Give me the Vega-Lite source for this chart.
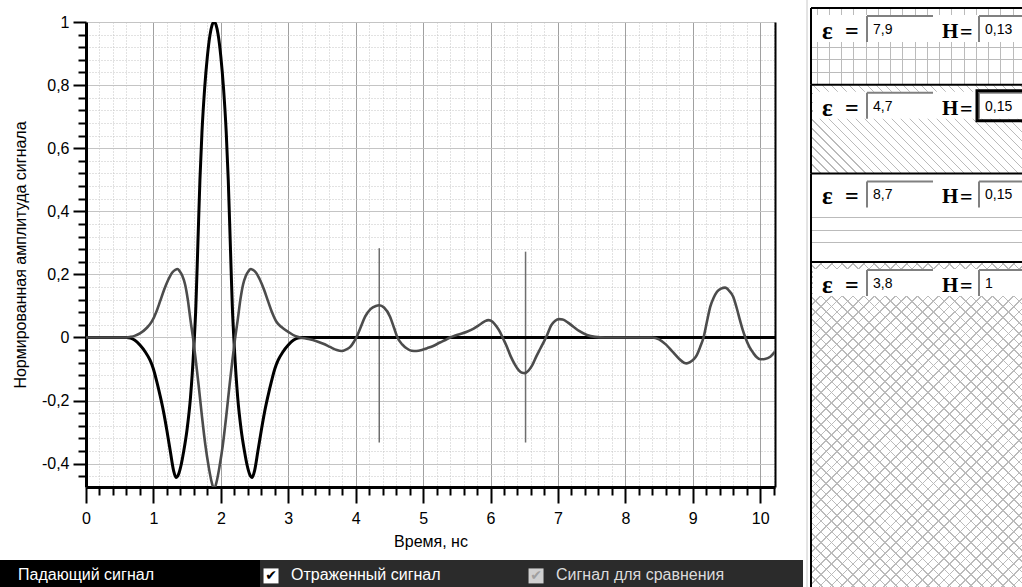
{
  "$schema": "https://vega.github.io/schema/vega-lite/v6.json",
  "width": 689,
  "height": 465,
  "padding": {"left": 86, "top": 22, "right": 247, "bottom": 100},
  "autosize": {"type": "none"},
  "background": "white",
  "config": {"view": {"stroke": null}, "font": "Liberation Sans"},
  "datasets": {
    "signals": [
      {"t":0,"v":0,"s":"inc"},{"t":0.6,"v":0,"s":"inc"},{"t":0.66,"v":-0.002,"s":"inc"},{"t":0.72,"v":-0.008,"s":"inc"},{"t":0.8,"v":-0.024,"s":"inc"},{"t":0.88,"v":-0.046,"s":"inc"},{"t":0.95,"v":-0.072,"s":"inc"},{"t":1.0,"v":-0.1,"s":"inc"},{"t":1.05,"v":-0.14,"s":"inc"},{"t":1.1,"v":-0.185,"s":"inc"},{"t":1.15,"v":-0.235,"s":"inc"},{"t":1.2,"v":-0.295,"s":"inc"},{"t":1.25,"v":-0.36,"s":"inc"},{"t":1.3,"v":-0.423,"s":"inc"},{"t":1.335,"v":-0.444,"s":"inc"},{"t":1.37,"v":-0.435,"s":"inc"},{"t":1.41,"v":-0.405,"s":"inc"},{"t":1.45,"v":-0.36,"s":"inc"},{"t":1.5,"v":-0.29,"s":"inc"},{"t":1.55,"v":-0.19,"s":"inc"},{"t":1.6,"v":-0.03,"s":"inc"},{"t":1.63,"v":0.1,"s":"inc"},{"t":1.66,"v":0.3,"s":"inc"},{"t":1.69,"v":0.5,"s":"inc"},{"t":1.72,"v":0.65,"s":"inc"},{"t":1.76,"v":0.79,"s":"inc"},{"t":1.8,"v":0.89,"s":"inc"},{"t":1.84,"v":0.96,"s":"inc"},{"t":1.87,"v":0.99,"s":"inc"},{"t":1.9,"v":1.0,"s":"inc"},{"t":1.93,"v":0.99,"s":"inc"},{"t":1.96,"v":0.96,"s":"inc"},{"t":2.0,"v":0.89,"s":"inc"},{"t":2.04,"v":0.79,"s":"inc"},{"t":2.08,"v":0.65,"s":"inc"},{"t":2.11,"v":0.5,"s":"inc"},{"t":2.14,"v":0.3,"s":"inc"},{"t":2.17,"v":0.1,"s":"inc"},{"t":2.2,"v":-0.03,"s":"inc"},{"t":2.25,"v":-0.19,"s":"inc"},{"t":2.3,"v":-0.29,"s":"inc"},{"t":2.35,"v":-0.36,"s":"inc"},{"t":2.39,"v":-0.405,"s":"inc"},{"t":2.43,"v":-0.435,"s":"inc"},{"t":2.465,"v":-0.444,"s":"inc"},{"t":2.5,"v":-0.423,"s":"inc"},{"t":2.55,"v":-0.36,"s":"inc"},{"t":2.6,"v":-0.295,"s":"inc"},{"t":2.65,"v":-0.235,"s":"inc"},{"t":2.7,"v":-0.185,"s":"inc"},{"t":2.75,"v":-0.14,"s":"inc"},{"t":2.8,"v":-0.1,"s":"inc"},{"t":2.85,"v":-0.072,"s":"inc"},{"t":2.92,"v":-0.046,"s":"inc"},{"t":3.0,"v":-0.024,"s":"inc"},{"t":3.08,"v":-0.008,"s":"inc"},{"t":3.14,"v":-0.002,"s":"inc"},{"t":3.2,"v":0,"s":"inc"},{"t":10.22,"v":0,"s":"inc"},
      {"t":0,"v":0,"s":"ref"},{"t":0.6,"v":0,"s":"ref"},{"t":0.66,"v":0.002,"s":"ref"},{"t":0.72,"v":0.005,"s":"ref"},{"t":0.8,"v":0.013,"s":"ref"},{"t":0.9,"v":0.03,"s":"ref"},{"t":0.975,"v":0.05,"s":"ref"},{"t":1.05,"v":0.085,"s":"ref"},{"t":1.1,"v":0.115,"s":"ref"},{"t":1.16,"v":0.152,"s":"ref"},{"t":1.22,"v":0.183,"s":"ref"},{"t":1.28,"v":0.206,"s":"ref"},{"t":1.33,"v":0.215,"s":"ref"},{"t":1.355,"v":0.217,"s":"ref"},{"t":1.39,"v":0.21,"s":"ref"},{"t":1.43,"v":0.195,"s":"ref"},{"t":1.47,"v":0.168,"s":"ref"},{"t":1.51,"v":0.12,"s":"ref"},{"t":1.55,"v":0.055,"s":"ref"},{"t":1.59,"v":-0.005,"s":"ref"},{"t":1.63,"v":-0.075,"s":"ref"},{"t":1.67,"v":-0.15,"s":"ref"},{"t":1.72,"v":-0.25,"s":"ref"},{"t":1.77,"v":-0.34,"s":"ref"},{"t":1.82,"v":-0.41,"s":"ref"},{"t":1.86,"v":-0.455,"s":"ref"},{"t":1.9,"v":-0.48,"s":"ref"},{"t":1.94,"v":-0.455,"s":"ref"},{"t":1.98,"v":-0.41,"s":"ref"},{"t":2.03,"v":-0.34,"s":"ref"},{"t":2.08,"v":-0.25,"s":"ref"},{"t":2.13,"v":-0.15,"s":"ref"},{"t":2.17,"v":-0.075,"s":"ref"},{"t":2.21,"v":-0.005,"s":"ref"},{"t":2.25,"v":0.055,"s":"ref"},{"t":2.29,"v":0.12,"s":"ref"},{"t":2.33,"v":0.168,"s":"ref"},{"t":2.37,"v":0.195,"s":"ref"},{"t":2.41,"v":0.21,"s":"ref"},{"t":2.445,"v":0.217,"s":"ref"},{"t":2.47,"v":0.215,"s":"ref"},{"t":2.52,"v":0.206,"s":"ref"},{"t":2.58,"v":0.183,"s":"ref"},{"t":2.64,"v":0.152,"s":"ref"},{"t":2.7,"v":0.115,"s":"ref"},{"t":2.75,"v":0.085,"s":"ref"},{"t":2.825,"v":0.05,"s":"ref"},{"t":2.9,"v":0.033,"s":"ref"},{"t":3.0,"v":0.018,"s":"ref"},{"t":3.1,"v":0.005,"s":"ref"},{"t":3.18,"v":0,"s":"ref"},{"t":3.3,"v":-0.005,"s":"ref"},{"t":3.42,"v":-0.012,"s":"ref"},{"t":3.52,"v":-0.02,"s":"ref"},{"t":3.62,"v":-0.03,"s":"ref"},{"t":3.72,"v":-0.04,"s":"ref"},{"t":3.79,"v":-0.043,"s":"ref"},{"t":3.86,"v":-0.038,"s":"ref"},{"t":3.92,"v":-0.03,"s":"ref"},{"t":3.97,"v":-0.015,"s":"ref"},{"t":4.01,"v":0,"s":"ref"},{"t":4.07,"v":0.03,"s":"ref"},{"t":4.14,"v":0.066,"s":"ref"},{"t":4.22,"v":0.09,"s":"ref"},{"t":4.3,"v":0.1,"s":"ref"},{"t":4.35,"v":0.102,"s":"ref"},{"t":4.42,"v":0.095,"s":"ref"},{"t":4.51,"v":0.066,"s":"ref"},{"t":4.57,"v":0.03,"s":"ref"},{"t":4.62,"v":0,"s":"ref"},{"t":4.69,"v":-0.022,"s":"ref"},{"t":4.76,"v":-0.035,"s":"ref"},{"t":4.83,"v":-0.042,"s":"ref"},{"t":4.9,"v":-0.043,"s":"ref"},{"t":4.98,"v":-0.04,"s":"ref"},{"t":5.06,"v":-0.034,"s":"ref"},{"t":5.15,"v":-0.027,"s":"ref"},{"t":5.25,"v":-0.016,"s":"ref"},{"t":5.33,"v":-0.008,"s":"ref"},{"t":5.4,"v":0,"s":"ref"},{"t":5.5,"v":0.008,"s":"ref"},{"t":5.65,"v":0.018,"s":"ref"},{"t":5.75,"v":0.028,"s":"ref"},{"t":5.85,"v":0.042,"s":"ref"},{"t":5.92,"v":0.052,"s":"ref"},{"t":5.97,"v":0.055,"s":"ref"},{"t":6.03,"v":0.05,"s":"ref"},{"t":6.09,"v":0.035,"s":"ref"},{"t":6.14,"v":0.018,"s":"ref"},{"t":6.19,"v":-0.005,"s":"ref"},{"t":6.24,"v":-0.028,"s":"ref"},{"t":6.3,"v":-0.06,"s":"ref"},{"t":6.36,"v":-0.085,"s":"ref"},{"t":6.42,"v":-0.104,"s":"ref"},{"t":6.47,"v":-0.112,"s":"ref"},{"t":6.51,"v":-0.113,"s":"ref"},{"t":6.56,"v":-0.106,"s":"ref"},{"t":6.62,"v":-0.088,"s":"ref"},{"t":6.68,"v":-0.06,"s":"ref"},{"t":6.74,"v":-0.035,"s":"ref"},{"t":6.8,"v":-0.01,"s":"ref"},{"t":6.84,"v":0.008,"s":"ref"},{"t":6.9,"v":0.038,"s":"ref"},{"t":6.96,"v":0.053,"s":"ref"},{"t":7.02,"v":0.058,"s":"ref"},{"t":7.07,"v":0.057,"s":"ref"},{"t":7.15,"v":0.047,"s":"ref"},{"t":7.23,"v":0.034,"s":"ref"},{"t":7.32,"v":0.02,"s":"ref"},{"t":7.43,"v":0.008,"s":"ref"},{"t":7.55,"v":0.002,"s":"ref"},{"t":7.7,"v":0,"s":"ref"},{"t":8.4,"v":0,"s":"ref"},{"t":8.5,"v":-0.006,"s":"ref"},{"t":8.6,"v":-0.022,"s":"ref"},{"t":8.7,"v":-0.045,"s":"ref"},{"t":8.8,"v":-0.068,"s":"ref"},{"t":8.87,"v":-0.08,"s":"ref"},{"t":8.91,"v":-0.082,"s":"ref"},{"t":8.96,"v":-0.078,"s":"ref"},{"t":9.02,"v":-0.068,"s":"ref"},{"t":9.06,"v":-0.056,"s":"ref"},{"t":9.11,"v":-0.03,"s":"ref"},{"t":9.16,"v":0,"s":"ref"},{"t":9.21,"v":0.05,"s":"ref"},{"t":9.26,"v":0.098,"s":"ref"},{"t":9.31,"v":0.126,"s":"ref"},{"t":9.36,"v":0.145,"s":"ref"},{"t":9.42,"v":0.155,"s":"ref"},{"t":9.48,"v":0.158,"s":"ref"},{"t":9.54,"v":0.148,"s":"ref"},{"t":9.6,"v":0.129,"s":"ref"},{"t":9.65,"v":0.095,"s":"ref"},{"t":9.7,"v":0.055,"s":"ref"},{"t":9.74,"v":0.025,"s":"ref"},{"t":9.78,"v":0,"s":"ref"},{"t":9.84,"v":-0.03,"s":"ref"},{"t":9.9,"v":-0.05,"s":"ref"},{"t":9.95,"v":-0.063,"s":"ref"},{"t":10.0,"v":-0.069,"s":"ref"},{"t":10.07,"v":-0.068,"s":"ref"},{"t":10.15,"v":-0.061,"s":"ref"},{"t":10.22,"v":-0.045,"s":"ref"}
    ],
    "markers": [
      {"t": 4.35, "top": 0.283, "bottom": -0.333},
      {"t": 6.52, "top": 0.272, "bottom": -0.333}
    ],
    "strata": [
      {"layer": 1, "eps": 7.9, "H": 0.13},
      {"layer": 2, "eps": 4.7, "H": 0.15},
      {"layer": 3, "eps": 8.7, "H": 0.15},
      {"layer": 4, "eps": 3.8, "H": 1}
    ],
    "legend": [
      {"idx": 0, "item": "Падающий сигнал", "box": "none"},
      {"idx": 1, "item": "Отраженный сигнал", "box": "checked"},
      {"idx": 2, "item": "Сигнал для сравнения", "box": "disabled"}
    ]
  },
  "layer": [
    {
      "layer": [
        {
          "data": {"name": "markers"},
          "mark": {"type": "rule", "color": "#6e6e6e", "strokeWidth": 1.5, "clip": true},
          "encoding": {
            "x": {"field": "t", "type": "quantitative", "scale": {"domain": [0, 10.22], "nice": false, "zero": false},
              "axis": {"orient": "bottom", "values": [0.2,0.4,0.6,0.8,1.2,1.4,1.6,1.8,2.2,2.4,2.6,2.8,3.2,3.4,3.6,3.8,4.2,4.4,4.6,4.8,5.2,5.4,5.6,5.8,6.2,6.4,6.6,6.8,7.2,7.4,7.6,7.8,8.2,8.4,8.6,8.8,9.2,9.4,9.6,9.8,10.2],
                "grid": true, "gridColor": "#c4c4c4", "gridDash": [1, 2], "gridWidth": 1, "ticks": true, "tickSize": 8, "tickWidth": 2, "tickColor": "black", "labels": false, "domain": false, "title": null}},
            "y": {"field": "top", "type": "quantitative", "scale": {"domain": [-0.474, 1], "nice": false, "zero": false},
              "axis": {"orient": "left", "values": [-0.44,-0.36,-0.32,-0.28,-0.24,-0.16,-0.12,-0.08,-0.04,0.04,0.08,0.12,0.16,0.24,0.28,0.32,0.36,0.44,0.48,0.52,0.56,0.64,0.68,0.72,0.76,0.84,0.88,0.92,0.96],
                "grid": true, "gridColor": "#c4c4c4", "gridDash": [1, 2], "gridWidth": 1, "ticks": true, "tickSize": 8, "tickWidth": 2, "tickColor": "black", "labels": false, "domain": false, "title": null}},
            "y2": {"field": "bottom"}
          }
        },
        {
          "data": {"name": "signals"},
          "transform": [{"filter": "datum.s == 'inc'"}],
          "mark": {"type": "line", "color": "black", "strokeWidth": 3, "interpolate": "monotone", "clip": true},
          "encoding": {
            "x": {"field": "t", "type": "quantitative", "scale": {"domain": [0, 10.22], "nice": false, "zero": false},
              "axis": {"orient": "bottom", "values": [0,1,2,3,4,5,6,7,8,9,10], "grid": true, "gridColor": "#a0a0a0", "gridWidth": 1,
                "tickSize": 16, "tickWidth": 2, "tickColor": "black", "domain": true, "domainColor": "black", "domainWidth": 3,
                "labelFont": "Liberation Sans", "labelFontSize": 16, "labelColor": "black", "labelPadding": 7, "labelFlush": false, "labelOverlap": false,
                "title": "Время, нс", "titleFont": "Liberation Sans", "titleFontSize": 16, "titleFontWeight": "normal", "titleColor": "black",
                "titleX": 344.5, "titleY": 54, "titleBaseline": "middle"}},
            "y": {"field": "v", "type": "quantitative", "scale": {"domain": [-0.474, 1], "nice": false, "zero": false},
              "axis": {"orient": "left", "values": [-0.4,-0.2,0,0.2,0.4,0.6,0.8,1], "labelExpr": "replace(toString(datum.value), '.', ',')",
                "grid": true, "gridColor": "#c4c4c4", "gridWidth": 1,
                "tickSize": 13, "tickWidth": 2, "tickColor": "black", "domain": true, "domainColor": "black", "domainWidth": 3,
                "labelFont": "Liberation Sans", "labelFontSize": 16, "labelColor": "black", "labelPadding": 4, "labelFlush": false, "labelOverlap": false,
                "title": "Нормированная амплитуда сигнала", "titleFont": "Liberation Sans", "titleFontSize": 16, "titleFontWeight": "normal", "titleColor": "black",
                "titleX": -66, "titleBaseline": "middle"}}
          }
        },
        {
          "data": {"name": "signals"},
          "transform": [{"filter": "datum.s == 'ref'"}],
          "mark": {"type": "line", "color": "#4c4c4c", "strokeWidth": 2.6, "interpolate": "monotone", "clip": true},
          "encoding": {
            "x": {"field": "t", "type": "quantitative", "scale": {"domain": [0, 10.22], "nice": false, "zero": false}, "axis": null},
            "y": {"field": "v", "type": "quantitative", "scale": {"domain": [-0.474, 1], "nice": false, "zero": false},
              "axis": {"orient": "right", "domain": true, "domainColor": "black", "domainWidth": 2, "ticks": false, "labels": false, "grid": false, "title": null}}
          }
        }
      ],
      "resolve": {"axis": {"x": "independent", "y": "independent"}}
    },
    {
      "data": {"name": "strata"},
      "transform": [
        {"window": [{"op": "sum", "field": "H", "as": "bottom"}], "sort": [{"field": "layer"}], "frame": [null, 0]},
        {"calculate": "datum.bottom - datum.H", "as": "top"},
        {"calculate": "replace(toString(datum.eps), '.', ',')", "as": "epsLabel"},
        {"calculate": "replace(toString(datum.H), '.', ',')", "as": "hLabel"}
      ],
      "encoding": {
        "x": {"datum": 0, "type": "quantitative", "scale": {"domain": [0, 1], "range": [725, 936], "nice": false, "zero": false}, "axis": null},
        "y": {"field": "top", "type": "quantitative", "scale": {"domain": [-0.01354, 0.98], "range": [-22, 565], "clamp": true, "nice": false, "zero": false}, "axis": null}
      },
      "layer": [
        {
          "transform": [{"filter": "datum.layer == 1"}],
          "mark": {"type": "rule", "color": "#c8c8c8", "strokeWidth": 1, "xOffset": -4},
          "encoding": {"y": {"datum": -0.05, "type": "quantitative"}, "y2": {"datum": 2}}
        },
        {
          "transform": [{"filter": "datum.layer == 1"}],
          "mark": {"type": "rect", "strokeWidth": 0, "fill": {"gradient": "linear", "x1": 0, "y1": 0, "x2": 1, "y2": 0, "stops": [
            {"offset":0.027,"color":"transparent"},{"offset":0.027,"color":"#bbb"},{"offset":0.032,"color":"#bbb"},{"offset":0.032,"color":"transparent"},
            {"offset":0.085,"color":"transparent"},{"offset":0.085,"color":"#bbb"},{"offset":0.09,"color":"#bbb"},{"offset":0.09,"color":"transparent"},
            {"offset":0.143,"color":"transparent"},{"offset":0.143,"color":"#bbb"},{"offset":0.148,"color":"#bbb"},{"offset":0.148,"color":"transparent"},
            {"offset":0.201,"color":"transparent"},{"offset":0.201,"color":"#bbb"},{"offset":0.206,"color":"#bbb"},{"offset":0.206,"color":"transparent"},
            {"offset":0.259,"color":"transparent"},{"offset":0.259,"color":"#bbb"},{"offset":0.264,"color":"#bbb"},{"offset":0.264,"color":"transparent"},
            {"offset":0.317,"color":"transparent"},{"offset":0.317,"color":"#bbb"},{"offset":0.322,"color":"#bbb"},{"offset":0.322,"color":"transparent"},
            {"offset":0.375,"color":"transparent"},{"offset":0.375,"color":"#bbb"},{"offset":0.38,"color":"#bbb"},{"offset":0.38,"color":"transparent"},
            {"offset":0.433,"color":"transparent"},{"offset":0.433,"color":"#bbb"},{"offset":0.438,"color":"#bbb"},{"offset":0.438,"color":"transparent"},
            {"offset":0.491,"color":"transparent"},{"offset":0.491,"color":"#bbb"},{"offset":0.496,"color":"#bbb"},{"offset":0.496,"color":"transparent"},
            {"offset":0.549,"color":"transparent"},{"offset":0.549,"color":"#bbb"},{"offset":0.554,"color":"#bbb"},{"offset":0.554,"color":"transparent"},
            {"offset":0.607,"color":"transparent"},{"offset":0.607,"color":"#bbb"},{"offset":0.612,"color":"#bbb"},{"offset":0.612,"color":"transparent"},
            {"offset":0.665,"color":"transparent"},{"offset":0.665,"color":"#bbb"},{"offset":0.67,"color":"#bbb"},{"offset":0.67,"color":"transparent"},
            {"offset":0.723,"color":"transparent"},{"offset":0.723,"color":"#bbb"},{"offset":0.728,"color":"#bbb"},{"offset":0.728,"color":"transparent"},
            {"offset":0.781,"color":"transparent"},{"offset":0.781,"color":"#bbb"},{"offset":0.786,"color":"#bbb"},{"offset":0.786,"color":"transparent"},
            {"offset":0.839,"color":"transparent"},{"offset":0.839,"color":"#bbb"},{"offset":0.844,"color":"#bbb"},{"offset":0.844,"color":"transparent"},
            {"offset":0.897,"color":"transparent"},{"offset":0.897,"color":"#bbb"},{"offset":0.902,"color":"#bbb"},{"offset":0.902,"color":"transparent"},
            {"offset":0.955,"color":"transparent"},{"offset":0.955,"color":"#bbb"},{"offset":0.96,"color":"#bbb"},{"offset":0.96,"color":"transparent"}
          ]}},
          "encoding": {"x2": {"datum": 1}, "y2": {"field": "bottom"}}
        },
        {
          "transform": [{"filter": "datum.layer == 1"}],
          "mark": {"type": "rect", "strokeWidth": 0, "fill": {"gradient": "linear", "x1": 0, "y1": 0, "x2": 0, "y2": 1, "stops": [
            {"offset":0.504,"color":"transparent"},{"offset":0.504,"color":"#bbb"},{"offset":0.517,"color":"#bbb"},{"offset":0.517,"color":"transparent"},
            {"offset":0.668,"color":"transparent"},{"offset":0.668,"color":"#bbb"},{"offset":0.681,"color":"#bbb"},{"offset":0.681,"color":"transparent"},
            {"offset":0.829,"color":"transparent"},{"offset":0.829,"color":"#bbb"},{"offset":0.842,"color":"#bbb"},{"offset":0.842,"color":"transparent"}
          ]}},
          "encoding": {"x2": {"datum": 1}, "y2": {"field": "bottom"}}
        },
        {
          "transform": [{"filter": "datum.layer == 2"}],
          "mark": {"type": "rect", "strokeWidth": 0, "fill": {"gradient": "linear", "x1": 0, "y1": 1, "x2": 1.2071, "y2": 0.4931, "stops": [
            {"offset":0,"color":"transparent"},{"offset":0,"color":"#bbb"},{"offset":0.005,"color":"#bbb"},{"offset":0.005,"color":"transparent"},
            {"offset":0.03,"color":"transparent"},{"offset":0.03,"color":"#bbb"},{"offset":0.035,"color":"#bbb"},{"offset":0.035,"color":"transparent"},
            {"offset":0.06,"color":"transparent"},{"offset":0.06,"color":"#bbb"},{"offset":0.065,"color":"#bbb"},{"offset":0.065,"color":"transparent"},
            {"offset":0.09,"color":"transparent"},{"offset":0.09,"color":"#bbb"},{"offset":0.095,"color":"#bbb"},{"offset":0.095,"color":"transparent"},
            {"offset":0.12,"color":"transparent"},{"offset":0.12,"color":"#bbb"},{"offset":0.125,"color":"#bbb"},{"offset":0.125,"color":"transparent"},
            {"offset":0.15,"color":"transparent"},{"offset":0.15,"color":"#bbb"},{"offset":0.155,"color":"#bbb"},{"offset":0.155,"color":"transparent"},
            {"offset":0.18,"color":"transparent"},{"offset":0.18,"color":"#bbb"},{"offset":0.185,"color":"#bbb"},{"offset":0.185,"color":"transparent"},
            {"offset":0.21,"color":"transparent"},{"offset":0.21,"color":"#bbb"},{"offset":0.215,"color":"#bbb"},{"offset":0.215,"color":"transparent"},
            {"offset":0.24,"color":"transparent"},{"offset":0.24,"color":"#bbb"},{"offset":0.245,"color":"#bbb"},{"offset":0.245,"color":"transparent"},
            {"offset":0.27,"color":"transparent"},{"offset":0.27,"color":"#bbb"},{"offset":0.275,"color":"#bbb"},{"offset":0.275,"color":"transparent"},
            {"offset":0.3,"color":"transparent"},{"offset":0.3,"color":"#bbb"},{"offset":0.305,"color":"#bbb"},{"offset":0.305,"color":"transparent"},
            {"offset":0.33,"color":"transparent"},{"offset":0.33,"color":"#bbb"},{"offset":0.335,"color":"#bbb"},{"offset":0.335,"color":"transparent"},
            {"offset":0.36,"color":"transparent"},{"offset":0.36,"color":"#bbb"},{"offset":0.365,"color":"#bbb"},{"offset":0.365,"color":"transparent"},
            {"offset":0.39,"color":"transparent"},{"offset":0.39,"color":"#bbb"},{"offset":0.395,"color":"#bbb"},{"offset":0.395,"color":"transparent"},
            {"offset":0.42,"color":"transparent"},{"offset":0.42,"color":"#bbb"},{"offset":0.425,"color":"#bbb"},{"offset":0.425,"color":"transparent"},
            {"offset":0.45,"color":"transparent"},{"offset":0.45,"color":"#bbb"},{"offset":0.455,"color":"#bbb"},{"offset":0.455,"color":"transparent"},
            {"offset":0.48,"color":"transparent"},{"offset":0.48,"color":"#bbb"},{"offset":0.485,"color":"#bbb"},{"offset":0.485,"color":"transparent"},
            {"offset":0.51,"color":"transparent"},{"offset":0.51,"color":"#bbb"},{"offset":0.515,"color":"#bbb"},{"offset":0.515,"color":"transparent"},
            {"offset":0.54,"color":"transparent"},{"offset":0.54,"color":"#bbb"},{"offset":0.545,"color":"#bbb"},{"offset":0.545,"color":"transparent"},
            {"offset":0.57,"color":"transparent"},{"offset":0.57,"color":"#bbb"},{"offset":0.575,"color":"#bbb"},{"offset":0.575,"color":"transparent"},
            {"offset":0.6,"color":"transparent"},{"offset":0.6,"color":"#bbb"},{"offset":0.605,"color":"#bbb"},{"offset":0.605,"color":"transparent"},
            {"offset":0.63,"color":"transparent"},{"offset":0.63,"color":"#bbb"},{"offset":0.635,"color":"#bbb"},{"offset":0.635,"color":"transparent"},
            {"offset":0.66,"color":"transparent"},{"offset":0.66,"color":"#bbb"},{"offset":0.665,"color":"#bbb"},{"offset":0.665,"color":"transparent"},
            {"offset":0.69,"color":"transparent"},{"offset":0.69,"color":"#bbb"},{"offset":0.695,"color":"#bbb"},{"offset":0.695,"color":"transparent"},
            {"offset":0.72,"color":"transparent"},{"offset":0.72,"color":"#bbb"},{"offset":0.725,"color":"#bbb"},{"offset":0.725,"color":"transparent"},
            {"offset":0.75,"color":"transparent"},{"offset":0.75,"color":"#bbb"},{"offset":0.755,"color":"#bbb"},{"offset":0.755,"color":"transparent"},
            {"offset":0.78,"color":"transparent"},{"offset":0.78,"color":"#bbb"},{"offset":0.785,"color":"#bbb"},{"offset":0.785,"color":"transparent"},
            {"offset":0.81,"color":"transparent"},{"offset":0.81,"color":"#bbb"},{"offset":0.815,"color":"#bbb"},{"offset":0.815,"color":"transparent"},
            {"offset":0.84,"color":"transparent"},{"offset":0.84,"color":"#bbb"},{"offset":0.845,"color":"#bbb"},{"offset":0.845,"color":"transparent"},
            {"offset":0.87,"color":"transparent"},{"offset":0.87,"color":"#bbb"},{"offset":0.875,"color":"#bbb"},{"offset":0.875,"color":"transparent"},
            {"offset":0.9,"color":"transparent"},{"offset":0.9,"color":"#bbb"},{"offset":0.905,"color":"#bbb"},{"offset":0.905,"color":"transparent"},
            {"offset":0.93,"color":"transparent"},{"offset":0.93,"color":"#bbb"},{"offset":0.935,"color":"#bbb"},{"offset":0.935,"color":"transparent"},
            {"offset":0.96,"color":"transparent"},{"offset":0.96,"color":"#bbb"},{"offset":0.965,"color":"#bbb"},{"offset":0.965,"color":"transparent"},
            {"offset":0.99,"color":"transparent"},{"offset":0.99,"color":"#bbb"},{"offset":0.995,"color":"#bbb"},{"offset":0.995,"color":"transparent"}
          ]}},
          "encoding": {"x2": {"datum": 1}, "y2": {"field": "bottom"}}
        },
        {
          "transform": [{"filter": "datum.layer == 3"}],
          "mark": {"type": "rect", "strokeWidth": 0, "fill": {"gradient": "linear", "x1": 0, "y1": 0, "x2": 0, "y2": 1, "stops": [
            {"offset":0.492,"color":"transparent"},{"offset":0.492,"color":"#bbb"},{"offset":0.503,"color":"#bbb"},{"offset":0.503,"color":"transparent"},
            {"offset":0.633,"color":"transparent"},{"offset":0.633,"color":"#bbb"},{"offset":0.644,"color":"#bbb"},{"offset":0.644,"color":"transparent"},
            {"offset":0.774,"color":"transparent"},{"offset":0.774,"color":"#bbb"},{"offset":0.785,"color":"#bbb"},{"offset":0.785,"color":"transparent"},
            {"offset":0.915,"color":"transparent"},{"offset":0.915,"color":"#bbb"},{"offset":0.926,"color":"#bbb"},{"offset":0.926,"color":"transparent"}
          ]}},
          "encoding": {"x2": {"datum": 1}, "y2": {"field": "bottom"}}
        },
        {
          "transform": [{"filter": "datum.layer == 4"}],
          "mark": {"type": "rect", "strokeWidth": 0, "fill": {"gradient": "linear", "x1": 0, "y1": 1, "x2": 0.7533, "y2": -0.1602, "stops": [
            {"offset":0,"color":"transparent"},{"offset":0,"color":"#bbb"},{"offset":0.003,"color":"#bbb"},{"offset":0.003,"color":"transparent"},
            {"offset":0.02,"color":"transparent"},{"offset":0.02,"color":"#bbb"},{"offset":0.023,"color":"#bbb"},{"offset":0.023,"color":"transparent"},
            {"offset":0.04,"color":"transparent"},{"offset":0.04,"color":"#bbb"},{"offset":0.043,"color":"#bbb"},{"offset":0.043,"color":"transparent"},
            {"offset":0.06,"color":"transparent"},{"offset":0.06,"color":"#bbb"},{"offset":0.063,"color":"#bbb"},{"offset":0.063,"color":"transparent"},
            {"offset":0.08,"color":"transparent"},{"offset":0.08,"color":"#bbb"},{"offset":0.083,"color":"#bbb"},{"offset":0.083,"color":"transparent"},
            {"offset":0.1,"color":"transparent"},{"offset":0.1,"color":"#bbb"},{"offset":0.103,"color":"#bbb"},{"offset":0.103,"color":"transparent"},
            {"offset":0.12,"color":"transparent"},{"offset":0.12,"color":"#bbb"},{"offset":0.123,"color":"#bbb"},{"offset":0.123,"color":"transparent"},
            {"offset":0.14,"color":"transparent"},{"offset":0.14,"color":"#bbb"},{"offset":0.143,"color":"#bbb"},{"offset":0.143,"color":"transparent"},
            {"offset":0.16,"color":"transparent"},{"offset":0.16,"color":"#bbb"},{"offset":0.163,"color":"#bbb"},{"offset":0.163,"color":"transparent"},
            {"offset":0.18,"color":"transparent"},{"offset":0.18,"color":"#bbb"},{"offset":0.183,"color":"#bbb"},{"offset":0.183,"color":"transparent"},
            {"offset":0.2,"color":"transparent"},{"offset":0.2,"color":"#bbb"},{"offset":0.203,"color":"#bbb"},{"offset":0.203,"color":"transparent"},
            {"offset":0.22,"color":"transparent"},{"offset":0.22,"color":"#bbb"},{"offset":0.223,"color":"#bbb"},{"offset":0.223,"color":"transparent"},
            {"offset":0.24,"color":"transparent"},{"offset":0.24,"color":"#bbb"},{"offset":0.243,"color":"#bbb"},{"offset":0.243,"color":"transparent"},
            {"offset":0.26,"color":"transparent"},{"offset":0.26,"color":"#bbb"},{"offset":0.263,"color":"#bbb"},{"offset":0.263,"color":"transparent"},
            {"offset":0.28,"color":"transparent"},{"offset":0.28,"color":"#bbb"},{"offset":0.283,"color":"#bbb"},{"offset":0.283,"color":"transparent"},
            {"offset":0.3,"color":"transparent"},{"offset":0.3,"color":"#bbb"},{"offset":0.303,"color":"#bbb"},{"offset":0.303,"color":"transparent"},
            {"offset":0.32,"color":"transparent"},{"offset":0.32,"color":"#bbb"},{"offset":0.323,"color":"#bbb"},{"offset":0.323,"color":"transparent"},
            {"offset":0.34,"color":"transparent"},{"offset":0.34,"color":"#bbb"},{"offset":0.343,"color":"#bbb"},{"offset":0.343,"color":"transparent"},
            {"offset":0.36,"color":"transparent"},{"offset":0.36,"color":"#bbb"},{"offset":0.363,"color":"#bbb"},{"offset":0.363,"color":"transparent"},
            {"offset":0.38,"color":"transparent"},{"offset":0.38,"color":"#bbb"},{"offset":0.383,"color":"#bbb"},{"offset":0.383,"color":"transparent"},
            {"offset":0.4,"color":"transparent"},{"offset":0.4,"color":"#bbb"},{"offset":0.403,"color":"#bbb"},{"offset":0.403,"color":"transparent"},
            {"offset":0.42,"color":"transparent"},{"offset":0.42,"color":"#bbb"},{"offset":0.423,"color":"#bbb"},{"offset":0.423,"color":"transparent"},
            {"offset":0.44,"color":"transparent"},{"offset":0.44,"color":"#bbb"},{"offset":0.443,"color":"#bbb"},{"offset":0.443,"color":"transparent"},
            {"offset":0.46,"color":"transparent"},{"offset":0.46,"color":"#bbb"},{"offset":0.463,"color":"#bbb"},{"offset":0.463,"color":"transparent"},
            {"offset":0.48,"color":"transparent"},{"offset":0.48,"color":"#bbb"},{"offset":0.483,"color":"#bbb"},{"offset":0.483,"color":"transparent"},
            {"offset":0.5,"color":"transparent"},{"offset":0.5,"color":"#bbb"},{"offset":0.503,"color":"#bbb"},{"offset":0.503,"color":"transparent"},
            {"offset":0.52,"color":"transparent"},{"offset":0.52,"color":"#bbb"},{"offset":0.523,"color":"#bbb"},{"offset":0.523,"color":"transparent"},
            {"offset":0.54,"color":"transparent"},{"offset":0.54,"color":"#bbb"},{"offset":0.543,"color":"#bbb"},{"offset":0.543,"color":"transparent"},
            {"offset":0.56,"color":"transparent"},{"offset":0.56,"color":"#bbb"},{"offset":0.563,"color":"#bbb"},{"offset":0.563,"color":"transparent"},
            {"offset":0.58,"color":"transparent"},{"offset":0.58,"color":"#bbb"},{"offset":0.583,"color":"#bbb"},{"offset":0.583,"color":"transparent"},
            {"offset":0.6,"color":"transparent"},{"offset":0.6,"color":"#bbb"},{"offset":0.603,"color":"#bbb"},{"offset":0.603,"color":"transparent"},
            {"offset":0.62,"color":"transparent"},{"offset":0.62,"color":"#bbb"},{"offset":0.623,"color":"#bbb"},{"offset":0.623,"color":"transparent"},
            {"offset":0.64,"color":"transparent"},{"offset":0.64,"color":"#bbb"},{"offset":0.643,"color":"#bbb"},{"offset":0.643,"color":"transparent"},
            {"offset":0.66,"color":"transparent"},{"offset":0.66,"color":"#bbb"},{"offset":0.663,"color":"#bbb"},{"offset":0.663,"color":"transparent"},
            {"offset":0.68,"color":"transparent"},{"offset":0.68,"color":"#bbb"},{"offset":0.683,"color":"#bbb"},{"offset":0.683,"color":"transparent"},
            {"offset":0.7,"color":"transparent"},{"offset":0.7,"color":"#bbb"},{"offset":0.703,"color":"#bbb"},{"offset":0.703,"color":"transparent"},
            {"offset":0.72,"color":"transparent"},{"offset":0.72,"color":"#bbb"},{"offset":0.723,"color":"#bbb"},{"offset":0.723,"color":"transparent"},
            {"offset":0.74,"color":"transparent"},{"offset":0.74,"color":"#bbb"},{"offset":0.743,"color":"#bbb"},{"offset":0.743,"color":"transparent"},
            {"offset":0.76,"color":"transparent"},{"offset":0.76,"color":"#bbb"},{"offset":0.763,"color":"#bbb"},{"offset":0.763,"color":"transparent"},
            {"offset":0.78,"color":"transparent"},{"offset":0.78,"color":"#bbb"},{"offset":0.783,"color":"#bbb"},{"offset":0.783,"color":"transparent"},
            {"offset":0.8,"color":"transparent"},{"offset":0.8,"color":"#bbb"},{"offset":0.803,"color":"#bbb"},{"offset":0.803,"color":"transparent"},
            {"offset":0.82,"color":"transparent"},{"offset":0.82,"color":"#bbb"},{"offset":0.823,"color":"#bbb"},{"offset":0.823,"color":"transparent"},
            {"offset":0.84,"color":"transparent"},{"offset":0.84,"color":"#bbb"},{"offset":0.843,"color":"#bbb"},{"offset":0.843,"color":"transparent"},
            {"offset":0.86,"color":"transparent"},{"offset":0.86,"color":"#bbb"},{"offset":0.863,"color":"#bbb"},{"offset":0.863,"color":"transparent"},
            {"offset":0.88,"color":"transparent"},{"offset":0.88,"color":"#bbb"},{"offset":0.883,"color":"#bbb"},{"offset":0.883,"color":"transparent"},
            {"offset":0.9,"color":"transparent"},{"offset":0.9,"color":"#bbb"},{"offset":0.903,"color":"#bbb"},{"offset":0.903,"color":"transparent"},
            {"offset":0.92,"color":"transparent"},{"offset":0.92,"color":"#bbb"},{"offset":0.923,"color":"#bbb"},{"offset":0.923,"color":"transparent"},
            {"offset":0.94,"color":"transparent"},{"offset":0.94,"color":"#bbb"},{"offset":0.943,"color":"#bbb"},{"offset":0.943,"color":"transparent"},
            {"offset":0.96,"color":"transparent"},{"offset":0.96,"color":"#bbb"},{"offset":0.963,"color":"#bbb"},{"offset":0.963,"color":"transparent"},
            {"offset":0.98,"color":"transparent"},{"offset":0.98,"color":"#bbb"},{"offset":0.983,"color":"#bbb"},{"offset":0.983,"color":"transparent"}
          ]}},
          "encoding": {"x2": {"datum": 1}, "y2": {"field": "bottom"}}
        },
        {
          "transform": [{"filter": "datum.layer == 4"}],
          "mark": {"type": "rect", "strokeWidth": 0, "fill": {"gradient": "linear", "x1": 0, "y1": 0, "x2": 0.7533, "y2": 1.1602, "stops": [
            {"offset":0,"color":"transparent"},{"offset":0,"color":"#bbb"},{"offset":0.003,"color":"#bbb"},{"offset":0.003,"color":"transparent"},
            {"offset":0.02,"color":"transparent"},{"offset":0.02,"color":"#bbb"},{"offset":0.023,"color":"#bbb"},{"offset":0.023,"color":"transparent"},
            {"offset":0.04,"color":"transparent"},{"offset":0.04,"color":"#bbb"},{"offset":0.043,"color":"#bbb"},{"offset":0.043,"color":"transparent"},
            {"offset":0.06,"color":"transparent"},{"offset":0.06,"color":"#bbb"},{"offset":0.063,"color":"#bbb"},{"offset":0.063,"color":"transparent"},
            {"offset":0.08,"color":"transparent"},{"offset":0.08,"color":"#bbb"},{"offset":0.083,"color":"#bbb"},{"offset":0.083,"color":"transparent"},
            {"offset":0.1,"color":"transparent"},{"offset":0.1,"color":"#bbb"},{"offset":0.103,"color":"#bbb"},{"offset":0.103,"color":"transparent"},
            {"offset":0.12,"color":"transparent"},{"offset":0.12,"color":"#bbb"},{"offset":0.123,"color":"#bbb"},{"offset":0.123,"color":"transparent"},
            {"offset":0.14,"color":"transparent"},{"offset":0.14,"color":"#bbb"},{"offset":0.143,"color":"#bbb"},{"offset":0.143,"color":"transparent"},
            {"offset":0.16,"color":"transparent"},{"offset":0.16,"color":"#bbb"},{"offset":0.163,"color":"#bbb"},{"offset":0.163,"color":"transparent"},
            {"offset":0.18,"color":"transparent"},{"offset":0.18,"color":"#bbb"},{"offset":0.183,"color":"#bbb"},{"offset":0.183,"color":"transparent"},
            {"offset":0.2,"color":"transparent"},{"offset":0.2,"color":"#bbb"},{"offset":0.203,"color":"#bbb"},{"offset":0.203,"color":"transparent"},
            {"offset":0.22,"color":"transparent"},{"offset":0.22,"color":"#bbb"},{"offset":0.223,"color":"#bbb"},{"offset":0.223,"color":"transparent"},
            {"offset":0.24,"color":"transparent"},{"offset":0.24,"color":"#bbb"},{"offset":0.243,"color":"#bbb"},{"offset":0.243,"color":"transparent"},
            {"offset":0.26,"color":"transparent"},{"offset":0.26,"color":"#bbb"},{"offset":0.263,"color":"#bbb"},{"offset":0.263,"color":"transparent"},
            {"offset":0.28,"color":"transparent"},{"offset":0.28,"color":"#bbb"},{"offset":0.283,"color":"#bbb"},{"offset":0.283,"color":"transparent"},
            {"offset":0.3,"color":"transparent"},{"offset":0.3,"color":"#bbb"},{"offset":0.303,"color":"#bbb"},{"offset":0.303,"color":"transparent"},
            {"offset":0.32,"color":"transparent"},{"offset":0.32,"color":"#bbb"},{"offset":0.323,"color":"#bbb"},{"offset":0.323,"color":"transparent"},
            {"offset":0.34,"color":"transparent"},{"offset":0.34,"color":"#bbb"},{"offset":0.343,"color":"#bbb"},{"offset":0.343,"color":"transparent"},
            {"offset":0.36,"color":"transparent"},{"offset":0.36,"color":"#bbb"},{"offset":0.363,"color":"#bbb"},{"offset":0.363,"color":"transparent"},
            {"offset":0.38,"color":"transparent"},{"offset":0.38,"color":"#bbb"},{"offset":0.383,"color":"#bbb"},{"offset":0.383,"color":"transparent"},
            {"offset":0.4,"color":"transparent"},{"offset":0.4,"color":"#bbb"},{"offset":0.403,"color":"#bbb"},{"offset":0.403,"color":"transparent"},
            {"offset":0.42,"color":"transparent"},{"offset":0.42,"color":"#bbb"},{"offset":0.423,"color":"#bbb"},{"offset":0.423,"color":"transparent"},
            {"offset":0.44,"color":"transparent"},{"offset":0.44,"color":"#bbb"},{"offset":0.443,"color":"#bbb"},{"offset":0.443,"color":"transparent"},
            {"offset":0.46,"color":"transparent"},{"offset":0.46,"color":"#bbb"},{"offset":0.463,"color":"#bbb"},{"offset":0.463,"color":"transparent"},
            {"offset":0.48,"color":"transparent"},{"offset":0.48,"color":"#bbb"},{"offset":0.483,"color":"#bbb"},{"offset":0.483,"color":"transparent"},
            {"offset":0.5,"color":"transparent"},{"offset":0.5,"color":"#bbb"},{"offset":0.503,"color":"#bbb"},{"offset":0.503,"color":"transparent"},
            {"offset":0.52,"color":"transparent"},{"offset":0.52,"color":"#bbb"},{"offset":0.523,"color":"#bbb"},{"offset":0.523,"color":"transparent"},
            {"offset":0.54,"color":"transparent"},{"offset":0.54,"color":"#bbb"},{"offset":0.543,"color":"#bbb"},{"offset":0.543,"color":"transparent"},
            {"offset":0.56,"color":"transparent"},{"offset":0.56,"color":"#bbb"},{"offset":0.563,"color":"#bbb"},{"offset":0.563,"color":"transparent"},
            {"offset":0.58,"color":"transparent"},{"offset":0.58,"color":"#bbb"},{"offset":0.583,"color":"#bbb"},{"offset":0.583,"color":"transparent"},
            {"offset":0.6,"color":"transparent"},{"offset":0.6,"color":"#bbb"},{"offset":0.603,"color":"#bbb"},{"offset":0.603,"color":"transparent"},
            {"offset":0.62,"color":"transparent"},{"offset":0.62,"color":"#bbb"},{"offset":0.623,"color":"#bbb"},{"offset":0.623,"color":"transparent"},
            {"offset":0.64,"color":"transparent"},{"offset":0.64,"color":"#bbb"},{"offset":0.643,"color":"#bbb"},{"offset":0.643,"color":"transparent"},
            {"offset":0.66,"color":"transparent"},{"offset":0.66,"color":"#bbb"},{"offset":0.663,"color":"#bbb"},{"offset":0.663,"color":"transparent"},
            {"offset":0.68,"color":"transparent"},{"offset":0.68,"color":"#bbb"},{"offset":0.683,"color":"#bbb"},{"offset":0.683,"color":"transparent"},
            {"offset":0.7,"color":"transparent"},{"offset":0.7,"color":"#bbb"},{"offset":0.703,"color":"#bbb"},{"offset":0.703,"color":"transparent"},
            {"offset":0.72,"color":"transparent"},{"offset":0.72,"color":"#bbb"},{"offset":0.723,"color":"#bbb"},{"offset":0.723,"color":"transparent"},
            {"offset":0.74,"color":"transparent"},{"offset":0.74,"color":"#bbb"},{"offset":0.743,"color":"#bbb"},{"offset":0.743,"color":"transparent"},
            {"offset":0.76,"color":"transparent"},{"offset":0.76,"color":"#bbb"},{"offset":0.763,"color":"#bbb"},{"offset":0.763,"color":"transparent"},
            {"offset":0.78,"color":"transparent"},{"offset":0.78,"color":"#bbb"},{"offset":0.783,"color":"#bbb"},{"offset":0.783,"color":"transparent"},
            {"offset":0.8,"color":"transparent"},{"offset":0.8,"color":"#bbb"},{"offset":0.803,"color":"#bbb"},{"offset":0.803,"color":"transparent"},
            {"offset":0.82,"color":"transparent"},{"offset":0.82,"color":"#bbb"},{"offset":0.823,"color":"#bbb"},{"offset":0.823,"color":"transparent"},
            {"offset":0.84,"color":"transparent"},{"offset":0.84,"color":"#bbb"},{"offset":0.843,"color":"#bbb"},{"offset":0.843,"color":"transparent"},
            {"offset":0.86,"color":"transparent"},{"offset":0.86,"color":"#bbb"},{"offset":0.863,"color":"#bbb"},{"offset":0.863,"color":"transparent"},
            {"offset":0.88,"color":"transparent"},{"offset":0.88,"color":"#bbb"},{"offset":0.883,"color":"#bbb"},{"offset":0.883,"color":"transparent"},
            {"offset":0.9,"color":"transparent"},{"offset":0.9,"color":"#bbb"},{"offset":0.903,"color":"#bbb"},{"offset":0.903,"color":"transparent"},
            {"offset":0.92,"color":"transparent"},{"offset":0.92,"color":"#bbb"},{"offset":0.923,"color":"#bbb"},{"offset":0.923,"color":"transparent"},
            {"offset":0.94,"color":"transparent"},{"offset":0.94,"color":"#bbb"},{"offset":0.943,"color":"#bbb"},{"offset":0.943,"color":"transparent"},
            {"offset":0.96,"color":"transparent"},{"offset":0.96,"color":"#bbb"},{"offset":0.963,"color":"#bbb"},{"offset":0.963,"color":"transparent"},
            {"offset":0.98,"color":"transparent"},{"offset":0.98,"color":"#bbb"},{"offset":0.983,"color":"#bbb"},{"offset":0.983,"color":"transparent"}
          ]}},
          "encoding": {"x2": {"datum": 1}, "y2": {"field": "bottom"}}
        },
        {
          "mark": {"type": "rect", "fill": "white", "strokeWidth": 0, "xOffset": 2, "yOffset": 7, "y2Offset": 34},
          "encoding": {"x2": {"datum": 1}, "y2": {"field": "top"}}
        },
        {
          "mark": {"type": "rule", "color": "#808080", "strokeWidth": 2, "xOffset": 56, "x2Offset": 122, "yOffset": 8},
          "encoding": {"x2": {"datum": 0}}
        },
        {
          "mark": {"type": "rule", "color": "#808080", "strokeWidth": 2, "xOffset": 56, "yOffset": 8, "y2Offset": 34},
          "encoding": {"y2": {"field": "top"}}
        },
        {
          "mark": {"type": "rule", "color": "#808080", "strokeWidth": 2, "xOffset": 168, "x2Offset": 0, "yOffset": 8},
          "encoding": {"x2": {"datum": 1}}
        },
        {
          "mark": {"type": "rule", "color": "#808080", "strokeWidth": 2, "xOffset": 168, "yOffset": 8, "y2Offset": 34},
          "encoding": {"y2": {"field": "top"}}
        },
        {
          "transform": [{"filter": "datum.layer == 2"}],
          "mark": {"type": "rect", "fill": null, "fillOpacity": 0, "stroke": "black", "strokeWidth": 3, "xOffset": 166, "x2Offset": 4, "yOffset": 6, "y2Offset": 36},
          "encoding": {"x2": {"datum": 1}, "y2": {"field": "top"}}
        },
        {
          "mark": {"type": "rule", "color": "black", "strokeWidth": 2},
          "encoding": {"x2": {"datum": 1}}
        },
        {
          "mark": {"type": "rule", "color": "black", "strokeWidth": 2},
          "encoding": {"y2": {"field": "bottom"}}
        },
        {
          "mark": {"type": "text", "text": "ε", "font": "Liberation Serif", "fontWeight": "bold", "fontSize": 25, "align": "left", "baseline": "middle", "dx": 11, "dy": 23, "color": "black"}
        },
        {
          "mark": {"type": "text", "text": "=", "font": "Liberation Serif", "fontWeight": "bold", "fontSize": 24, "align": "left", "baseline": "middle", "dx": 34, "dy": 24, "color": "black"}
        },
        {
          "mark": {"type": "text", "text": "H", "font": "Liberation Serif", "fontWeight": "bold", "fontSize": 21, "align": "left", "baseline": "middle", "dx": 131, "dy": 24, "color": "black"}
        },
        {
          "mark": {"type": "text", "text": "=", "font": "Liberation Serif", "fontWeight": "bold", "fontSize": 22, "align": "left", "baseline": "middle", "dx": 149, "dy": 24, "color": "black"}
        },
        {
          "mark": {"type": "text", "font": "Liberation Sans", "fontSize": 14, "align": "left", "baseline": "middle", "dx": 62, "dy": 22, "color": "black"},
          "encoding": {"text": {"field": "epsLabel"}}
        },
        {
          "mark": {"type": "text", "font": "Liberation Sans", "fontSize": 14, "align": "left", "baseline": "middle", "dx": 174, "dy": 22, "color": "black"},
          "encoding": {"text": {"field": "hLabel"}}
        }
      ]
    },
    {
      "data": {"name": "legend"},
      "encoding": {
        "x": {"field": "idx", "type": "quantitative", "scale": {"domain": [0, 3.03], "range": [-86, 717], "nice": false, "zero": false}, "axis": null},
        "y": {"datum": 0.55, "type": "quantitative", "scale": {"domain": [0, 1], "range": [538, 565], "nice": false, "zero": false}, "axis": null}
      },
      "layer": [
        {
          "transform": [{"filter": "datum.idx == 0"}],
          "mark": {"type": "rect", "fill": "#2b2b2b", "strokeWidth": 0},
          "encoding": {"x": {"datum": 0, "type": "quantitative"}, "x2": {"datum": 3.03}, "y": {"datum": 0, "type": "quantitative"}, "y2": {"datum": 1}}
        },
        {
          "transform": [{"filter": "datum.idx == 0"}],
          "mark": {"type": "rect", "fill": "black", "strokeWidth": 0, "x2Offset": -5},
          "encoding": {"x": {"datum": 0, "type": "quantitative"}, "x2": {"datum": 1}, "y": {"datum": 0, "type": "quantitative"}, "y2": {"datum": 1}}
        },
        {
          "transform": [{"filter": "datum.box != 'none'"}],
          "mark": {"type": "square", "size": 225, "filled": true, "opacity": 1, "xOffset": 6},
          "encoding": {
            "y": {"datum": 0.59, "type": "quantitative"},
            "color": {"condition": {"test": "datum.box == 'checked'", "value": "white"}, "value": "#d0d0d0"}
          }
        },
        {
          "transform": [{"filter": "datum.box != 'none'"}],
          "mark": {"type": "text", "text": "✔", "font": "DejaVu Sans", "fontSize": 14, "align": "center", "baseline": "middle", "dx": 6},
          "encoding": {
            "y": {"datum": 0.59, "type": "quantitative"},
            "color": {"condition": {"test": "datum.box == 'checked'", "value": "black"}, "value": "#a0a0a0"}
          }
        },
        {
          "transform": [{"filter": "datum.idx == 0"}],
          "mark": {"type": "text", "font": "Liberation Sans", "fontSize": 16, "align": "left", "baseline": "middle", "dx": 18, "color": "white"},
          "encoding": {"text": {"field": "item"}}
        },
        {
          "transform": [{"filter": "datum.idx > 0"}],
          "mark": {"type": "text", "font": "Liberation Sans", "fontSize": 16, "align": "left", "baseline": "middle", "dx": 26},
          "encoding": {
            "text": {"field": "item"},
            "color": {"condition": {"test": "datum.box == 'disabled'", "value": "#dcdcdc"}, "value": "white"}
          }
        }
      ]
    }
  ],
  "resolve": {"scale": {"x": "independent", "y": "independent"}}
}
